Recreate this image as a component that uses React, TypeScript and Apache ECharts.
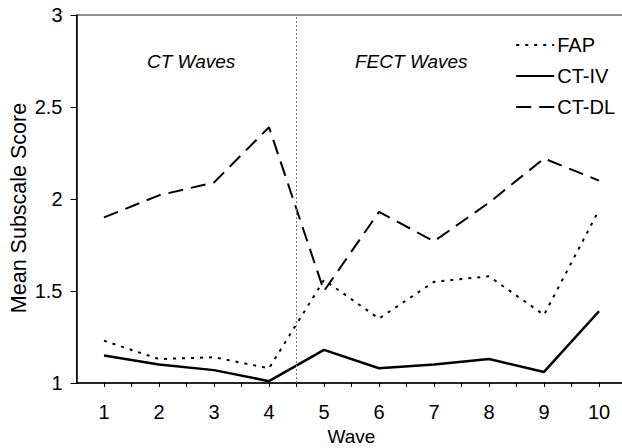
import React, { useEffect, useRef } from "react";
import * as echarts from "echarts";

const waves = [1, 2, 3, 4, 5, 6, 7, 8, 9, 10];
const fap = [1.23, 1.13, 1.14, 1.08, 1.56, 1.35, 1.55, 1.58, 1.37, 1.94];
const ctIV = [1.15, 1.1, 1.07, 1.01, 1.18, 1.08, 1.1, 1.13, 1.06, 1.39];
const ctDL = [1.9, 2.02, 2.09, 2.39, 1.5, 1.93, 1.77, 1.98, 2.22, 2.1];
const yTicks = [1, 1.5, 2, 2.5, 3];
const dividerX = 4.5;

const FONT = "'Liberation Sans', Arial, sans-serif";

export default function App() {
  const ref = useRef<HTMLDivElement>(null);
  useEffect(() => {
    if (!ref.current) return;
    const chart = echarts.init(ref.current, undefined, { renderer: "svg" });
    const pts = (arr: number[]) => waves.map((w, i) => [w, arr[i]]);
    chart.setOption({
      animation: false,
      backgroundColor: "#fff",
      color: ["#000", "#000", "#000"],
      textStyle: { fontFamily: FONT, color: "#000" },
      grid: {
        left: 76.5,
        top: 15,
        right: -4.5,
        bottom: 65,
        containLabel: false,
        outerBoundsMode: "none",
        show: true,
        borderColor: "#222",
        borderWidth: 1,
      },
      legend: {
        orient: "vertical",
        right: 2,
        top: 30,
        itemWidth: 38,
        itemHeight: 12,
        itemGap: 11,
        itemStyle: { opacity: 0 },
        textStyle: { fontFamily: FONT, fontSize: 20, color: "#000", padding: [0, 0, 0, -2] },
        data: ["FAP", "CT-IV", "CT-DL"],
      },
      xAxis: {
        type: "value",
        min: 0.5,
        max: 10.5,
        interval: 0.5,
        name: "Wave",
        nameLocation: "middle",
        nameGap: 44,
        nameMoveOverlap: false,
        nameTextStyle: { fontFamily: FONT, fontSize: 19, color: "#000" },
        axisLine: { show: true, lineStyle: { color: "#000", width: 1.5 } },
        axisTick: { show: true, length: 4, inside: false, lineStyle: { color: "#000" } },
        splitLine: { show: false },
        axisLabel: {
          fontFamily: FONT,
          fontSize: 20,
          color: "#000",
          margin: 19,
          showMinLabel: false,
          showMaxLabel: false,
          formatter: (v: number) => (Number.isInteger(v) && waves.includes(v) ? String(v) : ""),
        },
      },
      yAxis: {
        type: "value",
        min: yTicks[0],
        max: yTicks[yTicks.length - 1],
        interval: 0.5,
        name: "Mean Subscale Score",
        nameLocation: "middle",
        nameGap: 47,
        nameMoveOverlap: false,
        nameTextStyle: {
          fontFamily: FONT,
          fontSize: 21.5,
          color: "#000",
          padding: [0, 18, 0, 0],
        },
        axisLine: { show: true, lineStyle: { color: "#000", width: 1.5 } },
        axisTick: { show: true, length: 6, lineStyle: { color: "#000" } },
        splitLine: { show: false },
        axisLabel: {
          fontFamily: FONT,
          fontSize: 20,
          color: "#000",
          margin: 14,
          formatter: (v: number) => String(v),
        },
      },
      series: [
        {
          name: "FAP",
          type: "line",
          data: pts(fap),
          symbol: "none",
          lineStyle: { color: "#000", width: 2, type: [3, 6] },
          markLine: {
            silent: true,
            symbol: "none",
            label: { show: false },
            lineStyle: { color: "#777", width: 1, type: [2, 2] },
            data: [{ xAxis: dividerX }],
          },
        },
        {
          name: "CT-IV",
          type: "line",
          data: pts(ctIV),
          symbol: "none",
          lineStyle: { color: "#000", width: 2.5, type: "solid" },
        },
        {
          name: "CT-DL",
          type: "line",
          data: pts(ctDL),
          symbol: "none",
          lineStyle: { color: "#000", width: 2, type: [15, 8] },
        },
      ],
      graphic: [
        {
          type: "text",
          left: 147,
          top: 52,
          style: { text: "CT Waves", font: `italic 19px ${FONT}`, fill: "#000" },
        },
        {
          type: "text",
          left: 355,
          top: 52,
          style: { text: "FECT Waves", font: `italic 19px ${FONT}`, fill: "#000" },
        },
      ],
    });
    return () => chart.dispose();
  }, []);
  return (
    <div
      ref={ref}
      style={{ position: "fixed", left: 0, top: 0, width: 622, height: 448, background: "#fff" }}
    />
  );
}
